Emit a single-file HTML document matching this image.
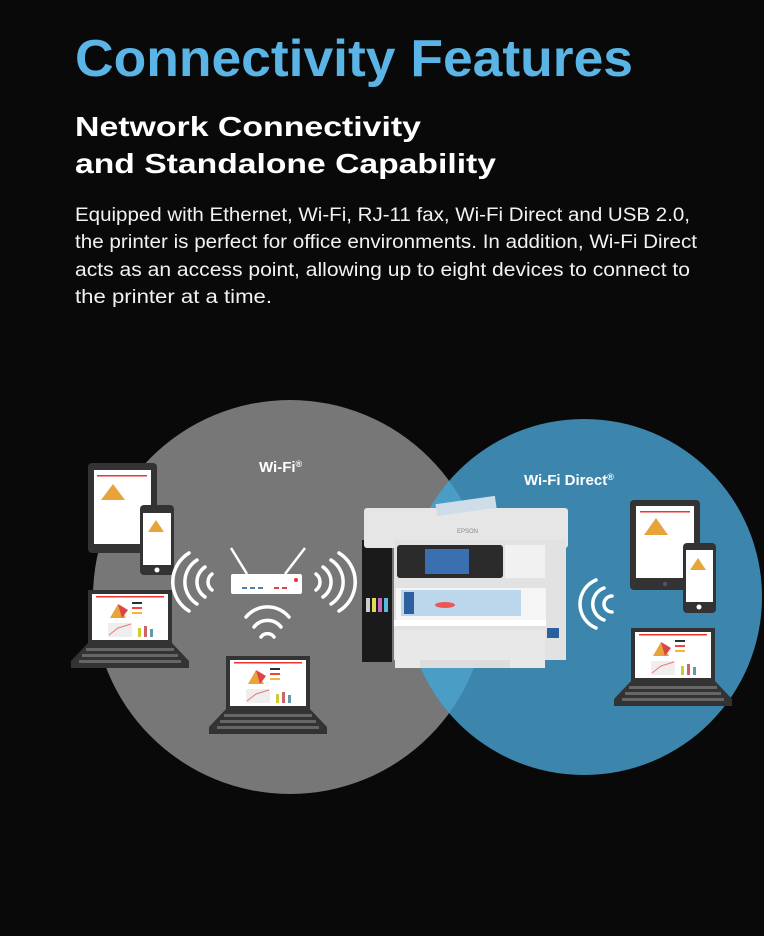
<!DOCTYPE html>
<html><head><meta charset="utf-8"><style>
html,body{margin:0;padding:0;background:#090909;}
svg{display:block}
text{font-family:"Liberation Sans",Arial,sans-serif;}
</style></head><body>
<svg width="764" height="936" viewBox="0 0 764 936" xmlns="http://www.w3.org/2000/svg">
<rect width="764" height="936" fill="#090909"/>
<text x="75" y="76" font-size="52" font-weight="bold" fill="#5ab5e6" textLength="558" lengthAdjust="spacingAndGlyphs">Connectivity Features</text>
<text x="75" y="136" font-size="28" font-weight="bold" fill="#fff" textLength="346" lengthAdjust="spacingAndGlyphs">Network Connectivity</text>
<text x="75" y="173" font-size="28" font-weight="bold" fill="#fff" textLength="421" lengthAdjust="spacingAndGlyphs">and Standalone Capability</text>
<g font-size="19" fill="#f2f2f2">
<text x="75" y="221" textLength="615" lengthAdjust="spacingAndGlyphs">Equipped with Ethernet, Wi-Fi, RJ-11 fax, Wi-Fi Direct and USB 2.0,</text>
<text x="75" y="248" textLength="622" lengthAdjust="spacingAndGlyphs">the printer is perfect for office environments. In addition, Wi-Fi Direct</text>
<text x="75" y="276" textLength="615" lengthAdjust="spacingAndGlyphs">acts as an access point, allowing up to eight devices to connect to</text>
<text x="75" y="303" textLength="197" lengthAdjust="spacingAndGlyphs">the printer at a time.</text>
</g>
<defs>
<clipPath id="gc"><circle cx="290" cy="597" r="197"/></clipPath>
<g id="lap"><rect x="0" y="0" width="84" height="53" fill="#333"/><rect x="4" y="4" width="76" height="46" fill="#fff"/>
<rect x="8" y="6" width="68" height="1.5" fill="#e33"/><path d="M22 28 L30 14 L38 28Z" fill="#e8a33a"/><path d="M30 14 L34 28 L40 20Z" fill="#d44"/>
<rect x="44" y="12" width="10" height="2" fill="#233"/><rect x="44" y="17" width="10" height="2" fill="#e44"/><rect x="44" y="22" width="10" height="2" fill="#eb3"/>
<rect x="20" y="33" width="24" height="14" fill="#eee"/><path d="M21 45 L30 38 L43 34" stroke="#e77" fill="none"/><rect x="50" y="38" width="3" height="9" fill="#cc3"/><rect x="56" y="36" width="3" height="11" fill="#c66"/><rect x="62" y="39" width="3" height="8" fill="#69a"/>
<path d="M0 53 L84 53 L101 71 L101 78 L-17 78 L-17 71Z" fill="#333"/><rect x="-2" y="58" width="88" height="3" fill="#666"/><rect x="-6" y="64" width="96" height="3" fill="#666"/><rect x="-9" y="70" width="102" height="3" fill="#666"/></g>
</defs>
<circle cx="290" cy="597" r="197" fill="#777"/>
<circle cx="584" cy="597" r="178" fill="#3c86ad"/>
<circle cx="584" cy="597" r="178" fill="#4a9ec6" clip-path="url(#gc)"/>
<text x="259" y="472" font-size="15" font-weight="bold" fill="#fff">Wi-Fi<tspan font-size="9" dy="-5">®</tspan></text>
<text x="524" y="485" font-size="15" font-weight="bold" fill="#fff">Wi-Fi Direct<tspan font-size="9" dy="-5">®</tspan></text>
<!-- left tablet & phone -->
<rect x="88" y="463" width="69" height="90" rx="4" fill="#333"/><rect x="94" y="470" width="57" height="74" fill="#fff"/>
<path d="M101 500 L113 484 L125 500Z" fill="#e8a33a"/><rect x="97" y="475" width="50" height="1.5" fill="#e33"/>
<rect x="140" y="505" width="34" height="70" rx="4" fill="#333"/><rect x="143" y="513" width="28" height="52" fill="#fff"/><path d="M148 532 L156 520 L164 532Z" fill="#e8a33a"/><circle cx="157" cy="570" r="2.5" fill="#fff"/>
<use href="#lap" x="88" y="590"/>
<use href="#lap" x="226" y="656"/>
<!-- router -->
<line x1="247" y1="574" x2="231" y2="548" stroke="#fff" stroke-width="2.5"/><line x1="285" y1="574" x2="305" y2="548" stroke="#fff" stroke-width="2.5"/>
<rect x="231" y="574" width="71" height="20" rx="2" fill="#fff"/><circle cx="296" cy="580" r="2" fill="#e33"/>
<g fill="#4a7fb0"><rect x="242" y="587" width="5" height="2"/><rect x="250" y="587" width="5" height="2"/><rect x="258" y="587" width="5" height="2"/></g>
<g fill="#d44"><rect x="274" y="587" width="5" height="2"/><rect x="282" y="587" width="5" height="2"/></g>
<g fill="none" stroke="#fff" stroke-width="3.5" stroke-linecap="round">
<path d="M212 574 A10 10 0 0 0 212 590"/><path d="M205 567 A18 18 0 0 0 205 597"/><path d="M197 560 A26 26 0 0 0 197 604"/><path d="M189 553 A34 34 0 0 0 189 611"/>
<path d="M316 574 A10 10 0 0 1 316 590"/><path d="M323 567 A18 18 0 0 1 323 597"/><path d="M331 560 A26 26 0 0 1 331 604"/><path d="M339 553 A34 34 0 0 1 339 611"/>
<path d="M246 617 A28 28 0 0 1 289 617"/><path d="M254 627 A17 17 0 0 1 281 627"/><path d="M261 637 A8 8 0 0 1 274 637"/>
<path d="M612 596 A8 8 0 0 0 612 612"/><path d="M604 588 A17 17 0 0 0 604 620"/><path d="M596 580 A26 26 0 0 0 596 628"/>
</g>
<!-- printer -->
<rect x="362" y="540" width="30" height="122" fill="#1a1a1a"/>
<rect x="366" y="598" width="4" height="14" fill="#ccc"/><rect x="372" y="598" width="4" height="14" fill="#dd5"/><rect x="378" y="598" width="4" height="14" fill="#c6b"/><rect x="384" y="598" width="4" height="14" fill="#5bd"/>
<rect x="364" y="508" width="204" height="40" rx="3" fill="#e6e6e6"/>
<rect x="436" y="500" width="60" height="12" fill="#cfdde8" transform="rotate(-8 466 506)"/>
<text x="457" y="533" font-size="6" fill="#888">EPSON</text>
<rect x="394" y="540" width="172" height="120" fill="#e2e2e2"/>
<rect x="397" y="545" width="106" height="33" rx="3" fill="#2b2b2b"/><rect x="425" y="549" width="44" height="25" fill="#3a6fb0"/>
<rect x="505" y="545" width="40" height="33" fill="#f1f1f1"/>
<rect x="396" y="588" width="150" height="32" fill="#f5f5f5"/><rect x="401" y="590" width="120" height="26" fill="#bcd6ec"/><rect x="404" y="592" width="10" height="22" fill="#2f5f9f"/><ellipse cx="445" cy="605" rx="10" ry="3" fill="#e55"/>
<rect x="394" y="620" width="152" height="6" fill="#fff"/>
<rect x="395" y="630" width="150" height="38" fill="#e8e8e8"/><rect x="420" y="660" width="90" height="8" fill="#ddd"/>
<rect x="547" y="628" width="12" height="10" fill="#2a5fa0"/>
<!-- right devices -->
<rect x="630" y="500" width="70" height="90" rx="4" fill="#333"/><rect x="636" y="506" width="58" height="72" fill="#fff"/><path d="M644 535 L656 518 L668 535Z" fill="#e8a33a"/><rect x="640" y="511" width="50" height="1.5" fill="#e33"/><circle cx="665" cy="584" r="2" fill="#557"/>
<rect x="683" y="543" width="33" height="70" rx="4" fill="#333"/><rect x="686" y="550" width="27" height="52" fill="#fff"/><path d="M690 570 L698 558 L706 570Z" fill="#e8a33a"/><circle cx="699" cy="607" r="2.5" fill="#fff"/>
<use href="#lap" x="631" y="628"/>
</svg>
</body></html>
